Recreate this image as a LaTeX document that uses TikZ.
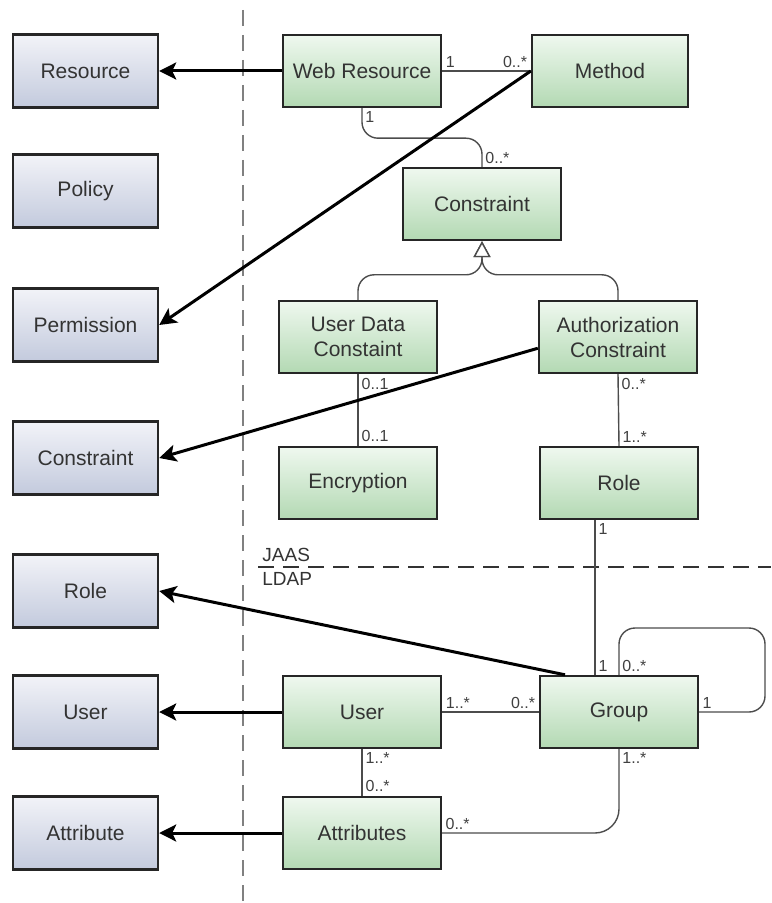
\documentclass[tikz,border=0pt]{standalone}
\usepackage{fontspec}
\setmainfont{Liberation Sans}
\usetikzlibrary{arrows.meta}
\definecolor{jtop}{HTML}{F2F3F8}
\definecolor{jbot}{HTML}{C3CADD}
\definecolor{gtop}{HTML}{EFF8EF}
\definecolor{gbot}{HTML}{B3D9B3}
\tikzset{
  jbox/.style={draw=black!85, line width=1.2pt, top color=jtop, bottom color=jbot,
    minimum width=72.5pt, minimum height=36.5pt, inner sep=0pt, text=black!80,
    font=\fontsize{10.5}{12.5}\selectfont, align=center},
  gbox/.style={jbox, top color=gtop, bottom color=gbot, minimum width=79pt, minimum height=36pt},
  assoc/.style={draw=black!70, line width=0.7pt, rounded corners=8pt},
  maps/.style={line width=1.5pt, -{Stealth[length=8.5pt,width=8.5pt,inset=2pt]}},
  isa/.style={assoc, -{Triangle[open,length=8pt,width=8.5pt,fill=white]}},
  mult/.style={font=\fontsize{8}{9}\selectfont, text=black!75, inner sep=1.5pt},
  sep/.style={line width=0.8pt, dash pattern=on 8pt off 4.5pt}
}
\begin{document}
\begin{tikzpicture}[x=0.5pt,y=-0.5pt]
\useasboundingbox (0,0) rectangle (771,903);
% separators
\draw[sep, gray] (243,10) -- (243,903);
\draw[sep, black!80] (258,567) -- (771,567);
\node[anchor=south west, font=\fontsize{9.5}{11}\selectfont, text=black!80, inner sep=2pt] (jaas) at (258,566) {JAAS};
\node[anchor=north west, font=\fontsize{9.5}{11}\selectfont, text=black!80, inner sep=2pt] (ldap) at (258,568) {LDAP};
% generic model
\foreach \name/\y/\txt in {resL/71/Resource, polL/191/Policy, permL/325/Permission,
    consL/458/Constraint, roleL/591/Role, userL/712/User, attrL/833/Attribute}
  \node[jbox] (\name) at (85.5,\y) {\txt};
% web / JAAS / LDAP model
\node[gbox] (wr) at (362,71) {Web Resource};
\node[gbox, minimum width=78pt] (method) at (610,71) {Method};
\node[gbox] (cons) at (482,204) {Constraint};
\node[gbox] (udc) at (358,337) {User Data\\Constaint};
\node[gbox] (ac) at (618,337) {Authorization\\Constraint};
\node[gbox] (enc) at (358,483) {Encryption};
\node[gbox] (role) at (619,483) {Role};
\node[gbox] (user) at (362,712) {User};
\node[gbox] (grp) at (619,712) {Group};
\node[gbox] (attr) at (362,833) {Attributes};
\coordinate (loop) at (765,628);
% associations
\draw[assoc] (wr.east) -- (method.west)
  node[mult, pos=0, above right] {1} node[mult, pos=1, above left] {0..*};
\draw[assoc] (wr.south) -- ++(0,30) -| (cons.north);
\node[mult, below right] at (wr.south) {1};
\node[mult, above right] at (cons.north) {0..*};
\draw[isa] (udc.north) -- ++(0,-25) -| (cons.south);
\draw[isa] (ac.north) -- ++(0,-25) -| (cons.south);
\draw[assoc] (udc.south) -- (enc.north)
  node[mult, pos=0, below right] {0..1} node[mult, pos=1, above right] {0..1};
\draw[assoc] (ac.south) -- (role.north)
  node[mult, pos=0, below right] {0..*} node[mult, pos=1, above right] {1..*};
\draw[assoc] ([xshift=-12pt]role.south) -- ([xshift=-12pt]grp.north)
  node[mult, pos=0, below right] {1} node[mult, pos=1, above right] {1};
\draw[assoc] (grp.north) |- (loop) |- (grp.east);
\node[mult, above right] at (grp.north) {0..*};
\node[mult, above right] at (grp.east) {1};
\draw[assoc] (user.east) -- (grp.west)
  node[mult, pos=0, above right] {1..*} node[mult, pos=1, above left] {0..*};
\draw[assoc] (user.south) -- (attr.north)
  node[mult, pos=0, below right] {1..*} node[mult, pos=1, above right] {0..*};
\draw[assoc, rounded corners=12pt] (grp.south) |- (attr.east);
\node[mult, below right] at (grp.south) {1..*};
\node[mult, above right] at (attr.east) {0..*};
% mappings
\draw[maps] (wr.west) -- (resL.east);
\draw[maps] (method.west) -- (permL.east);
\draw[maps] (ac.188) -- (consL.east);
\draw[maps] ([xshift=-27pt]grp.north) -- (roleL.east);
\draw[maps] (user.west) -- (userL.east);
\draw[maps] (attr.west) -- (attrL.east);
\end{tikzpicture}
\end{document}
